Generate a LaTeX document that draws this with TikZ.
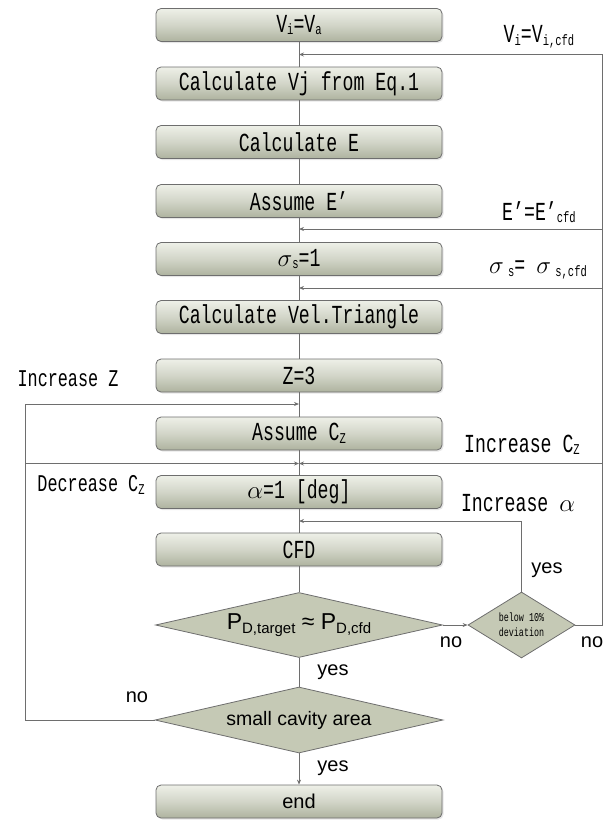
\documentclass[tikz,border=0pt]{standalone}
\usepackage{fontspec}
\usetikzlibrary{shapes.geometric,arrows.meta,shadows}
\newfontfamily\gfont[FakeStretch=0.7]{Liberation Mono}
\newfontfamily\afont{Liberation Sans}
\newcommand\gsz{\gfont\fontsize{26}{28}\selectfont}
\newcommand\gsm{\gfont\fontsize{24}{26}\selectfont}
\newcommand\sbs[1]{\raisebox{-2.5pt}{\fontsize{15}{15}\selectfont #1}}
\newcommand\asub[1]{\raisebox{-4pt}{\fontsize{15}{15}\selectfont #1}}
\definecolor{lnc}{HTML}{6E6E6E}
\definecolor{boxtop}{HTML}{EEF0E8}
\definecolor{boxmid}{HTML}{D2D5C8}
\definecolor{boxbot}{HTML}{AEB39F}
\definecolor{dfill}{HTML}{C5C9B5}
\tikzset{
  stepbox/.style={draw=lnc, line width=0.8pt, rounded corners=5pt,
    minimum width=286pt, minimum height=33pt, inner sep=0pt,
    top color=boxtop, bottom color=boxbot, middle color=boxmid,
    drop shadow={opacity=0.2, shadow xshift=1.5pt, shadow yshift=-1.5pt},
    font=\gsz},
  decide/.style={diamond, draw=lnc, line width=0.8pt, fill=dfill, inner sep=0pt},
  ln/.style={draw=lnc, line width=0.8pt},
  arr/.style={ln, -{Stealth[length=5pt,width=4pt]}},
  lab/.style={font=\gsz, inner sep=0pt},
  labs/.style={font=\gsm, inner sep=0pt},
  yn/.style={font=\afont\fontsize{20}{22}\selectfont, inner sep=0pt}
}
\begin{document}
\begin{tikzpicture}[x=1pt,y=-1pt]
\useasboundingbox (0,0) rectangle (603,820);
% boxes
\node[stepbox] (b1) at (299,25) {V\sbs{i}=V\sbs{a}};
\node[stepbox] (b2) at (299,83.5) {Calculate Vj from Eq.1};
\node[stepbox] (b3) at (299,142) {Calculate E};
\node[stepbox] (b4) at (299,201) {Assume E’};
\node[stepbox] (b5) at (299,259) {$\sigma$\sbs{s}=1};
\node[stepbox] (b6) at (299,317) {Calculate Vel.Triangle};
\node[stepbox] (b7) at (299,375.5) {Z=3};
\node[stepbox] (b8) at (299,433.5) {Assume C\sbs{Z}};
\node[stepbox] (b9) at (299,492) {$\alpha$=1 [deg]};
\node[stepbox] (b10) at (299,549.5) {CFD};
\node[decide, aspect=4, minimum width=287pt, minimum height=65pt] (d1) at (299,625)
  {\afont\fontsize{23}{25}\selectfont P\asub{D,target} ≈ P\asub{D,cfd}};
\node[decide, aspect=1.6, minimum width=107pt, minimum height=66pt, align=center,
  font=\gfont\fontsize{12}{15}\selectfont] (d2) at (521.5,625)
  {below 10\%\\deviation};
\node[decide, aspect=4, minimum width=288pt, minimum height=66pt] (d3) at (299,720)
  {\afont\fontsize{19.5}{22}\selectfont small cavity area};
\node[stepbox, font=\afont\fontsize{20}{22}\selectfont] (b11) at (299,801.5) {end};
% junction coordinates
\coordinate (j1) at (299,54.5);
\coordinate (j4) at (299,229);
\coordinate (j5) at (299,288);
\coordinate (jZ) at (299,404);
\coordinate (jC) at (299,463.5);
\coordinate (jA) at (299,521);
\coordinate (rb) at (602,625);
\coordinate (r4) at (602,229);
\coordinate (r5) at (602,288);
\coordinate (rC) at (602,463.5);
\coordinate (lb) at (25,720);
\coordinate (lC) at (25,463.5);
% main chain
\draw[ln] (b1) -- (b2);
\draw[ln] (b2) -- (b3);
\draw[ln] (b3) -- (b4);
\draw[ln] (b4) -- (b5);
\draw[ln] (b5) -- (b6);
\draw[ln] (b6) -- (b7);
\draw[ln] (b7) -- (b8);
\draw[ln] (b8) -- (b9);
\draw[ln] (b9) -- (b10);
\draw[ln] (b10) -- (d1);
\draw[ln] (d1) -- (d3);
\draw[arr] (d3) -- (b11);
\draw[arr] (d1.east) -- (d2.west);
% right feedback
\draw[arr] (d2.east) -- (rb) |- (j1);
\draw[arr] (r4) -- (j4);
\draw[arr] (r5) -- (j5);
\draw[arr] (rC) -- (jC);
\draw[arr] (d2.north) |- (jA);
% left feedback
\draw[arr] (d3.west) -- (lb) |- (jZ);
\draw[arr] (lC) -- (jC);
% labels
\node[lab] (t1) at (539,37) {V\sbs{i}=V\sbs{i,cfd}};
\node[lab] (t2) at (539,212) {E’=E’\sbs{cfd}};
\node[lab] (t3) at (538,270) {$\sigma$\,\sbs{s}= $\sigma$\,\sbs{s,cfd}};
\node[lab] (t4) at (522,445) {Increase C\sbs{Z}};
\node[lab] (t5) at (518,503) {Increase $\alpha$};
\node[labs] (t6) at (68,379) {Increase Z};
\node[labs] (t7) at (91,485) {Decrease C\sbs{Z}};
\node[yn] (y1) at (547,570) {yes};
\node[yn] (n1) at (451,642) {no};
\node[yn] (n2) at (592,642) {no};
\node[yn] (y2) at (333,672) {yes};
\node[yn] (n3) at (137,697) {no};
\node[yn] (y3) at (333,768) {yes};
\end{tikzpicture}
\end{document}
